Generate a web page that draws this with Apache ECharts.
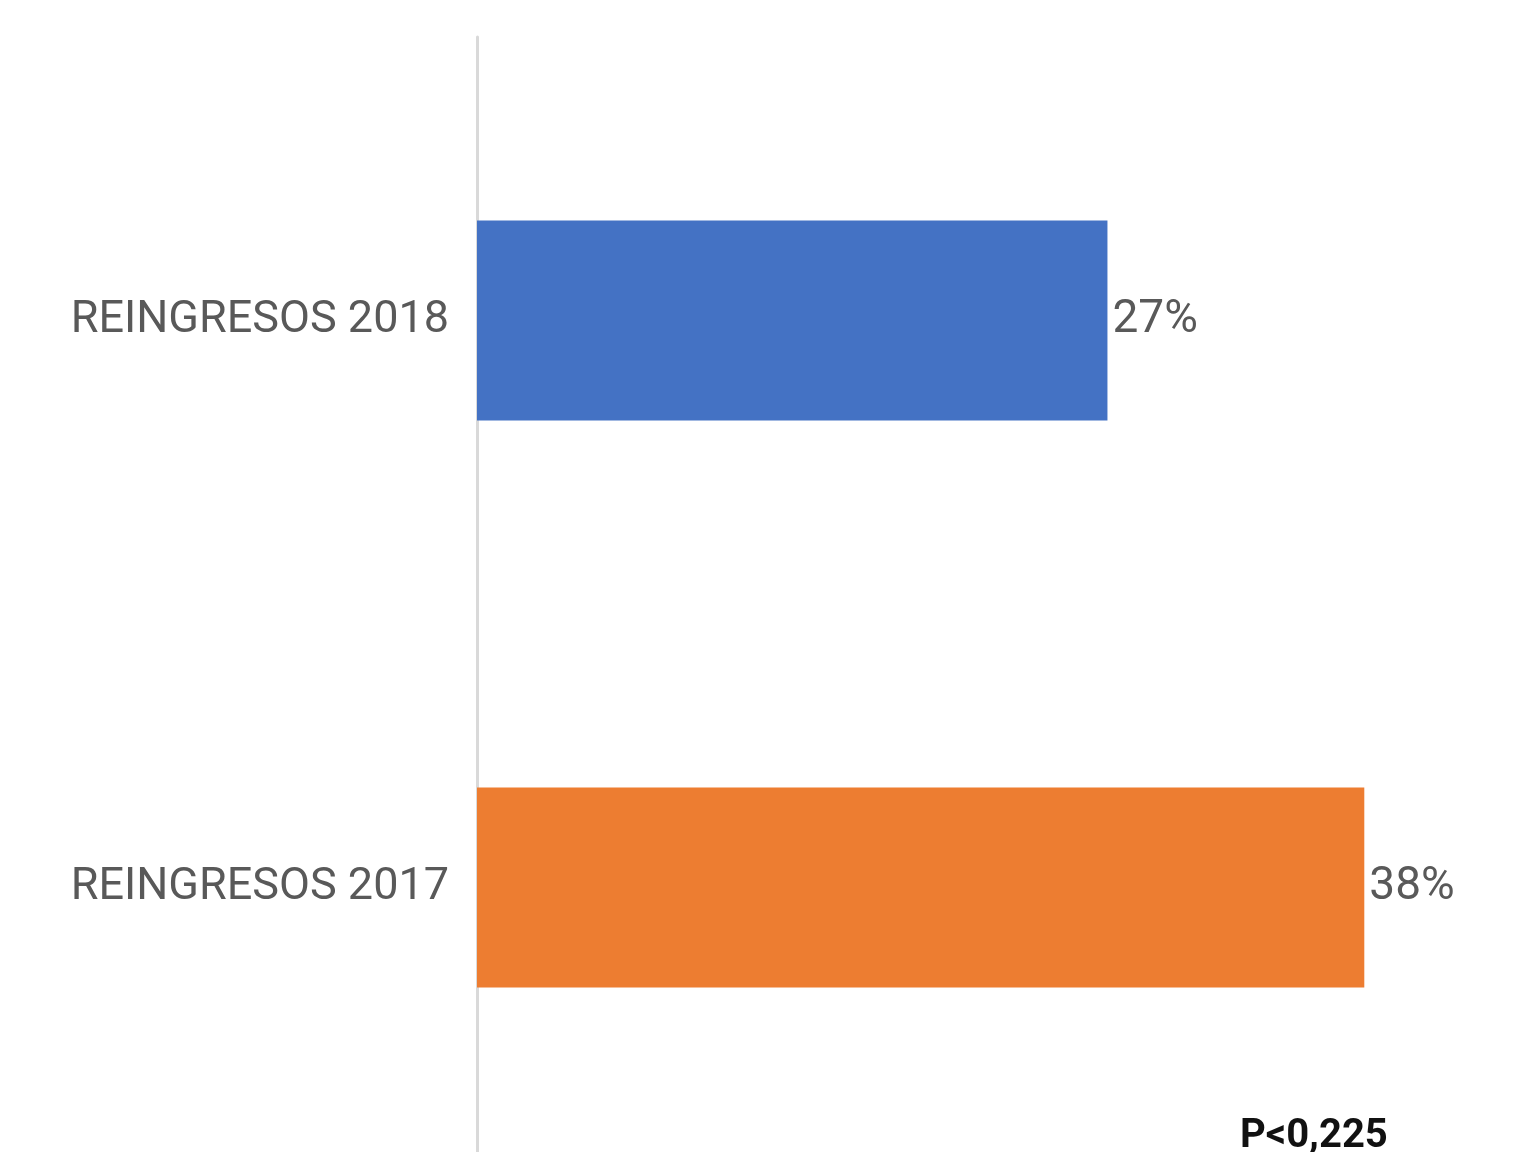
<!DOCTYPE html>
<html>
<head>
<meta charset="utf-8">
<script src="https://cdn.jsdelivr.net/npm/echarts@6/dist/echarts.min.js"></script>
<style>html,body{margin:0;padding:0;background:#fff;overflow:hidden;}#c{width:1537px;height:1180px;}</style>
</head>
<body>
<div id="c"></div>
<script>
var categories = ['REINGRESOS 2017', 'REINGRESOS 2018'];
var values = [38, 27];
var barColors = ['#ED7D31', '#4472C4'];
var pText = 'P<0,225';

var chart = echarts.init(document.getElementById('c'));
chart.setOption({
  backgroundColor: '#fff',
  animation: false,
  grid: { left: 477, right: 126, top: 37, height: 1134, containLabel: false },
  xAxis: { type: 'value', min: 0, max: 40, show: false },
  yAxis: {
    type: 'category',
    data: categories,
    axisLine: { show: true, lineStyle: { color: '#d9d9d9', width: 3 } },
    axisTick: { show: false },
    axisLabel: { margin: 28, color: '#595959', fontSize: 45, fontFamily: 'Roboto, sans-serif' }
  },
  series: [{
    type: 'bar',
    data: values.map(function (v, i) { return { value: v, itemStyle: { color: barColors[i] } }; }),
    barWidth: 200,
    label: {
      show: true, position: 'right', distance: 5,
      formatter: '{c}%', color: '#595959', fontSize: 46,
      fontFamily: 'Roboto, sans-serif'
    }
  }],
  graphic: [{
    type: 'text', left: 1240, top: 1117,
    style: { text: pText, fill: '#111', fontSize: 40, fontWeight: 'bold', fontFamily: 'Roboto, sans-serif' }
  }]
});
</script>
</body>
</html>
